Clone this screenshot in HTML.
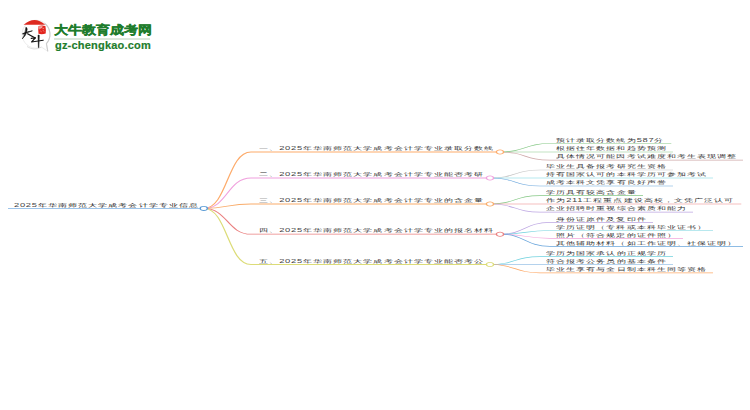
<!DOCTYPE html>
<html><head><meta charset="utf-8"><style>
html,body{margin:0;padding:0;background:#fff;width:750px;height:410px;overflow:hidden;position:relative;font-family:"Liberation Sans",sans-serif}
.t{position:absolute;white-space:nowrap;font-size:13px;line-height:13px;letter-spacing:1.0px;font-weight:normal;color:#333;transform:scale(0.72,0.4);transform-origin:0 100%}
.r{color:#222}
.d{display:inline-block;text-shadow:none;color:#444;transform:scaleY(1.15);transform-origin:0 80%}
svg.m{position:absolute;left:0;top:0}
.lt{position:absolute;left:54px;top:20.5px;font-size:13.6px;line-height:16px;font-weight:bold;color:#1f7d2d;white-space:nowrap;transform:scaleY(0.86);transform-origin:0 100%;-webkit-text-stroke:0.45px #1f7d2d}
.ll{position:absolute;left:54px;top:38px;width:96px;height:1.5px;background:#dce8dc}
.lu{position:absolute;left:55px;top:39px;font-size:11px;line-height:12px;font-weight:bold;letter-spacing:0.2px;color:#1f7d2d;white-space:nowrap;-webkit-text-stroke:0.2px #1f7d2d}
</style></head><body>

<div class="logo">
<svg width="60" height="60" viewBox="0 0 60 60" style="position:absolute;left:0;top:0">
  <path d="M36 20.2 A14 14 0 1 0 41.5 47.1 L47.8 51.3 L46.4 43.6 A14 14 0 0 0 36 20.2Z" fill="#fff" stroke="#e4e4e4" stroke-width="0.7"/>
  <path d="M44.5 23.2 A14 14 0 0 1 46.4 43.6 L47.8 51.3" fill="none" stroke="#cdcdcd" stroke-width="1.1"/>
  <path d="M27 46.5 A14 14 0 0 0 41.5 47.1" fill="none" stroke="#d8d8d8" stroke-width="0.8"/>
  <path d="M23.6 24.8 Q34.5 15.4 45.3 24.8 Z" fill="#de2a20"/>
  <path d="M22.6 33.6 Q27.5 31.6 32.4 30.8 Q27.5 32.6 22.9 34.3Z" fill="#151515" stroke="#151515" stroke-width="0.6" stroke-linejoin="round"/>
  <path d="M25.9 27.2 Q27.4 27.4 27.2 29.6 Q26.4 35.8 22.2 39 Q25.2 35 25.9 27.2Z" fill="#151515" stroke="#151515" stroke-width="0.5" stroke-linejoin="round"/>
  <path d="M27.6 33.8 Q31.5 36.2 35.4 38" stroke="#151515" stroke-width="1.2" fill="none" stroke-linecap="round"/>
  <path d="M31.2 38.4 L35.3 37.8 L31.6 42 L43.2 40.2" stroke="#151515" stroke-width="1.15" fill="none" stroke-linecap="round" stroke-linejoin="round"/>
  <path d="M38 35 L39.3 35.2 L38.9 47.6 L38.4 47.6Z" fill="#151515" stroke="#151515" stroke-width="0.5" stroke-linejoin="round"/>
  <path d="M38.6 26 Q42 25 45.4 26 Q46.2 30 45.7 33.6 Q42 34.6 38.5 33.8 Q37.9 30 38.6 26Z" fill="#e2231d"/>
  <path d="M38.7 26.2 Q41 25.4 43 25.8 Q42.4 28.6 39 29.6Z" fill="#f08a84"/>
  <path d="M39.6 27.2 l1.4 1 M41.6 26.6 l0.3 1.6 M40.4 31 l1.2 0.8 M43 30.2 l1 1.3 M42.6 28.6 l1.6 -0.4" stroke="#fbd6d2" stroke-width="0.55"/>
</svg>
<div class="lt">大牛教育成考网</div>
<div class="ll"></div>
<div class="lu">gz-chengkao.com</div>
</div>

<svg class="m" width="750" height="410" viewBox="0 0 750 410"><g transform="scale(1,0.6)">
<path d="M8 347.333H199.8" stroke="#7db1e3" stroke-width="1.4" fill="none"/>
<path d="M203.8 347.333C227.4 347.333 227.4 253.333 251 253.333H496" stroke="#fdab6b" stroke-width="1.3" fill="none"/>
<path d="M500 253.333C525.0 253.333 525.0 239.167 550 239.167H671.3" stroke="#86c886" stroke-width="1.2" fill="none"/>
<path d="M500 253.333C525.0 253.333 525.0 253.333 550 253.333H673.0" stroke="#86c886" stroke-width="1.2" fill="none"/>
<path d="M500 253.333C525.0 253.333 525.0 267.000 550 267.000H743.0" stroke="#cfaaaa" stroke-width="1.2" fill="none"/>
<path d="M203.8 347.333C227.4 347.333 227.4 296.667 251 296.667H486" stroke="#f0a0dd" stroke-width="1.3" fill="none"/>
<path d="M490 296.667C515.0 296.667 515.0 283.333 540 283.333H673.0" stroke="#c4c4c4" stroke-width="1.2" fill="none"/>
<path d="M490 296.667C515.0 296.667 515.0 296.667 540 296.667H713.0" stroke="#72d2de" stroke-width="1.2" fill="none"/>
<path d="M490 296.667C515.0 296.667 515.0 310.000 540 310.000H673.0" stroke="#6aa6dc" stroke-width="1.2" fill="none"/>
<path d="M203.8 347.333C227.4 347.333 227.4 340.000 251 340.000H486" stroke="#f9ac6a" stroke-width="1.3" fill="none"/>
<path d="M490 340.000C515.0 340.000 515.0 326.000 540 326.000H643.0" stroke="#86c886" stroke-width="1.2" fill="none"/>
<path d="M490 340.000C515.0 340.000 515.0 340.000 540 340.000H741.3" stroke="#ea8080" stroke-width="1.2" fill="none"/>
<path d="M490 340.000C515.0 340.000 515.0 353.500 540 353.500H693.0" stroke="#bda6e2" stroke-width="1.2" fill="none"/>
<path d="M203.8 347.333C227.4 347.333 227.4 390.333 251 390.333H496" stroke="#ea8080" stroke-width="1.3" fill="none"/>
<path d="M500 390.333C525.0 390.333 525.0 370.667 550 370.667H653.0" stroke="#bda6e2" stroke-width="1.2" fill="none"/>
<path d="M500 390.333C525.0 390.333 525.0 384.167 550 384.167H713.0" stroke="#72d2de" stroke-width="1.2" fill="none"/>
<path d="M500 390.333C525.0 390.333 525.0 397.167 550 397.167H683.0" stroke="#f2a6dc" stroke-width="1.2" fill="none"/>
<path d="M500 390.333C525.0 390.333 525.0 410.500 550 410.500H743.0" stroke="#6aa6dc" stroke-width="1.2" fill="none"/>
<path d="M203.8 347.333C227.4 347.333 227.4 440.833 251 440.833H486" stroke="#dcdc78" stroke-width="1.3" fill="none"/>
<path d="M490 440.833C515.0 440.833 515.0 427.667 540 427.667H673.0" stroke="#72d2de" stroke-width="1.2" fill="none"/>
<path d="M490 440.833C515.0 440.833 515.0 440.833 540 440.833H673.0" stroke="#6aa6dc" stroke-width="1.2" fill="none"/>
<path d="M490 440.833C515.0 440.833 515.0 454.667 540 454.667H713.0" stroke="#fdab6b" stroke-width="1.2" fill="none"/>
<ellipse cx="500" cy="253.333" rx="3.6" ry="3.500" fill="#fff" stroke="#fdab6b" stroke-width="1.4"/>
<ellipse cx="490" cy="296.667" rx="3.6" ry="3.500" fill="#fff" stroke="#f0a0dd" stroke-width="1.4"/>
<ellipse cx="490" cy="340.000" rx="3.6" ry="3.500" fill="#fff" stroke="#f9ac6a" stroke-width="1.4"/>
<ellipse cx="500" cy="390.333" rx="3.6" ry="3.500" fill="#fff" stroke="#ea8080" stroke-width="1.4"/>
<ellipse cx="490" cy="440.833" rx="3.6" ry="3.500" fill="#fff" stroke="#dcdc78" stroke-width="1.4"/>
<ellipse cx="203.8" cy="347.333" rx="3.6" ry="3.500" fill="#fff" stroke="#5b9bd5" stroke-width="1.4"/>
</g></svg>
<div class="t r" style="left:13.7px;top:194.90px"><span class="d">2025</span>年华南师范大学成考会计学专业信息</div>
<div class="t" style="left:259.3px;top:138.20px">一、<span class="d">2025</span>年华南师范大学成考会计学专业录取分数线</div>
<div class="t" style="left:556px;top:129.70px">预计录取分数线为<span class="d">587</span>分</div>
<div class="t" style="left:556px;top:138.20px">根据往年数据和趋势预测</div>
<div class="t" style="left:556px;top:146.40px">具体情况可能因考试难度和考生表现调整</div>
<div class="t" style="left:259.3px;top:164.20px">二、<span class="d">2025</span>年华南师范大学成考会计学专业能否考研</div>
<div class="t" style="left:546px;top:156.20px">毕业生具备报考研究生资格</div>
<div class="t" style="left:546px;top:164.20px">持有国家认可的本科学历可参加考试</div>
<div class="t" style="left:546px;top:172.20px">成考本科文凭享有良好声誉</div>
<div class="t" style="left:259.3px;top:190.20px">三、<span class="d">2025</span>年华南师范大学成考会计学专业的含金量</div>
<div class="t" style="left:546px;top:181.80px">学历具有较高含金量</div>
<div class="t" style="left:546px;top:190.20px">作为<span class="d">211</span>工程重点建设高校，文凭广泛认可</div>
<div class="t" style="left:546px;top:198.30px">企业招聘时重视综合素质和能力</div>
<div class="t" style="left:259.3px;top:220.40px">四、<span class="d">2025</span>年华南师范大学成考会计学专业的报名材料</div>
<div class="t" style="left:556px;top:208.60px">身份证原件及复印件</div>
<div class="t" style="left:556px;top:216.70px">学历证明（专科或本科毕业证书）</div>
<div class="t" style="left:556px;top:224.50px">照片（符合规定的证件照）</div>
<div class="t" style="left:556px;top:232.50px">其他辅助材料（如工作证明、社保证明）</div>
<div class="t" style="left:259.3px;top:250.70px">五、<span class="d">2025</span>年华南师范大学成考会计学专业能否考公</div>
<div class="t" style="left:546px;top:242.80px">学历为国家承认的正规学历</div>
<div class="t" style="left:546px;top:250.70px">符合报考公务员的基本条件</div>
<div class="t" style="left:546px;top:259.00px">毕业生享有与全日制本科生同等资格</div>
</body></html>
